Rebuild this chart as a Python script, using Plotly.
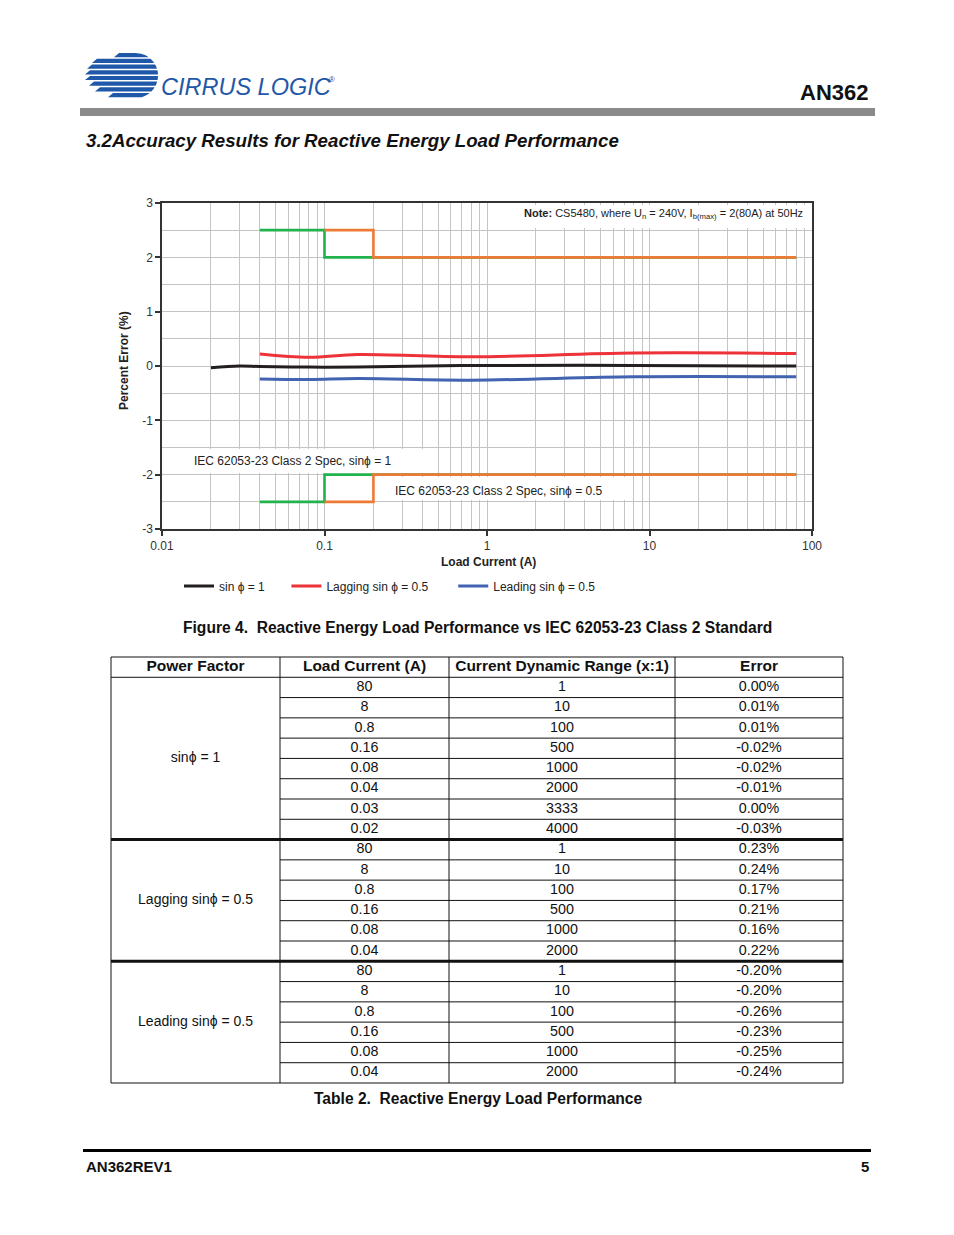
import math
import plotly.graph_objects as go

# ---------------- data ----------------
sin1_current = [0.02, 0.03, 0.04, 0.08, 0.16, 0.8, 8, 80]
sin1_error = [-0.03, 0.00, -0.01, -0.02, -0.02, 0.01, 0.01, 0.00]
lag_current = [0.04, 0.08, 0.16, 0.8, 8, 80]
lag_error = [0.22, 0.16, 0.21, 0.17, 0.24, 0.23]
lead_current = [0.04, 0.08, 0.16, 0.8, 8, 80]
lead_error = [-0.24, -0.25, -0.23, -0.26, -0.20, -0.20]

spec1_x = [0.04, 0.1, 0.1, 80]
spec1_lim = [2.5, 2.5, 2.0, 2.0]
spec05_x = [0.1, 0.2, 0.2, 80]
spec05_lim = [2.5, 2.5, 2.0, 2.0]

x_tickvals = [0.01, 0.1, 1, 10, 100]
x_ticktext = ["0.01", "0.1", "1", "10", "100"]
y_tickvals = [-3, -2, -1, 0, 1, 2, 3]
y_ticktext = ["-3", "-2", "-1", "0", "1", "2", "3"]

table_header = ["Power Factor", "Load Current (A)", "Current Dynamic Range (x:1)", "Error"]
group_names = ["sin\u03d5 = 1", "Lagging sin\u03d5 = 0.5", "Leading sin\u03d5 = 0.5"]
group_current = [
    ["80", "8", "0.8", "0.16", "0.08", "0.04", "0.03", "0.02"],
    ["80", "8", "0.8", "0.16", "0.08", "0.04"],
    ["80", "8", "0.8", "0.16", "0.08", "0.04"],
]
group_range = [
    ["1", "10", "100", "500", "1000", "2000", "3333", "4000"],
    ["1", "10", "100", "500", "1000", "2000"],
    ["1", "10", "100", "500", "1000", "2000"],
]
group_error = [
    ["0.00%", "0.01%", "0.01%", "-0.02%", "-0.02%", "-0.01%", "0.00%", "-0.03%"],
    ["0.23%", "0.24%", "0.17%", "0.21%", "0.16%", "0.22%"],
    ["-0.20%", "-0.20%", "-0.26%", "-0.23%", "-0.25%", "-0.24%"],
]

# ---------------- page geometry helpers ----------------
W, H = 954, 1235
FONT = "Liberation Sans, Arial, Helvetica, sans-serif"


def px(x):
    return x / W


def py(y):
    return 1 - y / H


BLACK = "#231f20"
RED = "#ee3239"
BLUE = "#4263b0"
GREEN = "#21b24b"
ORANGE = "#ed7a35"
GRID = "#c4c4c4"

fig = go.Figure()

# ---------------- chart traces ----------------
for xs, lim, col in [(spec1_x, spec1_lim, GREEN), (spec05_x, spec05_lim, ORANGE)]:
    fig.add_trace(go.Scatter(x=xs, y=lim, mode="lines", line=dict(color=col, width=2.6),
                             showlegend=False, hoverinfo="skip"))
    fig.add_trace(go.Scatter(x=xs, y=[-v for v in lim], mode="lines", line=dict(color=col, width=2.6),
                             showlegend=False, hoverinfo="skip"))

fig.add_trace(go.Scatter(x=sin1_current, y=sin1_error, mode="lines", name="sin \u03d5 = 1" + "\u00a0" * 5,
                         line=dict(color=BLACK, width=3, shape="spline", smoothing=1)))
fig.add_trace(go.Scatter(x=lag_current, y=lag_error, mode="lines",
                         name="Lagging sin \u03d5 = 0.5" + "\u00a0" * 6,
                         line=dict(color=RED, width=3, shape="spline", smoothing=1)))
fig.add_trace(go.Scatter(x=lead_current, y=lead_error, mode="lines", name="Leading sin \u03d5 = 0.5",
                         line=dict(color=BLUE, width=3, shape="spline", smoothing=1)))

minor_vals = [m * 10 ** e for e in range(-2, 2) for m in range(2, 10)]

fig.update_layout(
    xaxis=dict(type="log", range=[-2, 2], domain=[px(162), px(812)], anchor="y",
               tickvals=x_tickvals, ticktext=x_ticktext, ticks="outside", ticklen=5,
               tickcolor="#333", tickwidth=1.5,
               showline=True, linecolor="#333", linewidth=1.5, mirror=True,
               showgrid=True, gridcolor=GRID, gridwidth=1,
               minor=dict(tickvals=minor_vals, showgrid=True, gridcolor=GRID, gridwidth=1, ticks=""),
               tickfont=dict(family=FONT, size=12, color="#333"), zeroline=False, automargin=False),
    yaxis=dict(range=[-3, 3], domain=[py(529), py(203)], anchor="x",
               tickvals=y_tickvals, ticktext=y_ticktext, ticks="outside", ticklen=5,
               tickcolor="#333", tickwidth=1.5,
               showline=True, linecolor="#333", linewidth=1.5, mirror=True,
               showgrid=True, gridcolor=GRID, gridwidth=1,
               minor=dict(dtick=0.5, showgrid=True, gridcolor=GRID, gridwidth=1, ticks=""),
               tickfont=dict(family=FONT, size=12, color="#333"), zeroline=False, automargin=False),
)


def xv(p):  # pixel -> data (log axis) helper for label boxes
    return 10 ** (-2 + (p - 162) / 162.5)


def yv(p):
    return 3 - (p - 203) / (326 / 6)


shapes = []
for (x0, x1, y0, y1) in [(164, 438, 449, 473), (376, 633, 477, 500), (490, 810, 205, 228)]:
    shapes.append(dict(type="rect", xref="x", yref="y", x0=xv(x0), x1=xv(x1), y0=yv(y1), y1=yv(y0),
                       fillcolor="white", line=dict(width=0), layer="between"))

annotations = []


def note(x, y, text, size, xanchor="center", color="#111", xref="paper", yref="paper", **kw):
    annotations.append(dict(xref=xref, yref=yref, x=x, y=y, xanchor=xanchor, yanchor="middle",
                            text=text, showarrow=False, font=dict(family=FONT, size=size, color=color), **kw))


note(math.log10(xv(192)), yv(461), "IEC 62053-23 Class 2 Spec, sin\u03d5 = 1", 12, "left", "#222", "x", "y")
note(math.log10(xv(393)), yv(491), "IEC 62053-23 Class 2 Spec, sin\u03d5 = 0.5", 12, "left", "#222", "x", "y")
note(math.log10(xv(805)), yv(214),
     "<b>Note:</b> CS5480, where U<sub>n</sub> = 240V, I<sub>b(max)</sub> = 2(80A) at 50Hz",
     11, "right", "#222", "x", "y")
note(px(124), py(360), "<b>Percent Error (%)</b>", 12, "center", "#222", textangle=-90)
note(px(488), py(562), "<b>Load Current (A)</b>", 12, "center", "#222")

# ---------------- table (own axes) ----------------
col_edges = [111, 280, 449, 675, 843]
n_rows = 1 + sum(len(g) for g in group_current)
t_top, t_bot = 657, 1083
row_h = (t_bot - t_top) / n_rows
pad = 4
fig.update_layout(
    xaxis2=dict(domain=[px(col_edges[0] - pad), px(col_edges[-1] + pad)],
                range=[col_edges[0] - pad, col_edges[-1] + pad], visible=False, anchor="y2", fixedrange=True),
    yaxis2=dict(domain=[py(t_bot + pad), py(t_top - pad)],
                range=[n_rows + pad / row_h, -pad / row_h], visible=False, anchor="x2", fixedrange=True),
)

col_mid = [(col_edges[i] + col_edges[i + 1]) / 2 for i in range(4)]
tab_font = dict(family=FONT, size=14.3, color="#111")

fig.add_trace(go.Scatter(x=col_mid, y=[0.5] * 4, text=["<b>%s</b>" % h for h in table_header],
                         mode="text", xaxis="x2", yaxis="y2", showlegend=False, hoverinfo="skip",
                         textfont=dict(family=FONT, size=15.5, color="#111"), cliponaxis=False))

tx, ty, tt = [], [], []
gx, gy, gt = [], [], []
r = 1
group_bounds = []
for gi in range(3):
    n = len(group_current[gi])
    group_bounds.append((r, r + n))
    gx.append(col_mid[0])
    gy.append(r + n / 2)
    gt.append(group_names[gi])
    for k in range(n):
        for ci, vals in enumerate([group_current[gi], group_range[gi], group_error[gi]]):
            tx.append(col_mid[ci + 1])
            ty.append(r + k + 0.5)
            tt.append(vals[k])
    r += n

fig.add_trace(go.Scatter(x=tx, y=ty, text=tt, mode="text", xaxis="x2", yaxis="y2", showlegend=False,
                         hoverinfo="skip", textfont=tab_font, cliponaxis=False))
fig.add_trace(go.Scatter(x=gx, y=gy, text=gt, mode="text", xaxis="x2", yaxis="y2", showlegend=False,
                         hoverinfo="skip", textfont=dict(family=FONT, size=14, color="#111"),
                         cliponaxis=False))

LC = "#111"
for e in col_edges:
    shapes.append(dict(type="line", xref="x2", yref="y2", x0=e, x1=e, y0=0, y1=n_rows,
                       line=dict(color=LC, width=1)))
for yy in (0, 1, n_rows):
    shapes.append(dict(type="line", xref="x2", yref="y2", x0=col_edges[0], x1=col_edges[-1], y0=yy, y1=yy,
                       line=dict(color=LC, width=1)))
for gi, (a, b) in enumerate(group_bounds):
    for rr in range(a + 1, b):
        shapes.append(dict(type="line", xref="x2", yref="y2", x0=col_edges[1], x1=col_edges[-1], y0=rr, y1=rr,
                           line=dict(color=LC, width=1)))
    if gi > 0:
        shapes.append(dict(type="line", xref="x2", yref="y2", x0=col_edges[0], x1=col_edges[-1], y0=a, y1=a,
                           line=dict(color=LC, width=3)))

# ---------------- page decorations ----------------
LOGO = "#1f58a8"
cx, cy, rad = 135.5, 75.5, 22.5
stripes = [(53.0, 57.2, 114), (58.7, 63.0, 92), (64.5, 68.7, 87), (70.2, 74.4, 85),
           (75.9, 80.1, 85), (81.6, 85.8, 89), (87.3, 91.5, 95), (93.0, 97.2, 108)]
for (y0, y1, xl) in stripes:
    pts = []
    steps = 6
    for s in range(steps + 1):
        yy = y0 + (y1 - y0) * s / steps
        dy = yy - cy
        xx = cx + math.sqrt(max(rad ** 2 - dy ** 2, 0))
        pts.append((xx, yy))
    path = "M %f,%f " % (px(xl + 5), py(y0))
    for (xx, yy) in pts:
        path += "L %f,%f " % (px(xx), py(yy))
    path += "L %f,%f Z" % (px(xl), py(y1))
    shapes.append(dict(type="path", xref="paper", yref="paper", path=path, fillcolor=LOGO,
                       line=dict(width=0)))

note(px(159), py(87), "<i>CIRRUS LOGIC</i>", 23.5, "left", LOGO)
note(px(327), py(80), "\u00ae", 8, "left", LOGO)
note(px(870), py(93), "<b>AN362</b>", 22, "right")
shapes.append(dict(type="rect", xref="paper", yref="paper", x0=px(80), x1=px(875), y0=py(116), y1=py(108),
                   fillcolor="#8a8a8a", line=dict(width=0)))
note(px(84), py(141), "<b><i>3.2Accuracy Results for Reactive Energy Load Performance</i></b>", 18.7, "left")
note(px(477), py(627), "<b>Figure 4.  Reactive Energy Load Performance vs IEC 62053-23 Class 2 Standard</b>",
     15.6, "center")
note(px(477.5), py(1098), "<b>Table 2.  Reactive Energy Load Performance</b>", 15.6, "center")
shapes.append(dict(type="line", xref="paper", yref="paper", x0=px(83), x1=px(871), y0=py(1150.5), y1=py(1150.5),
                   line=dict(color="#000", width=3)))
note(px(84), py(1166), "<b>AN362REV1</b>", 15, "left")
note(px(871), py(1166), "<b>5</b>", 15, "right")

fig.update_layout(
    width=W, height=H, margin=dict(l=0, r=0, t=0, b=0, pad=0), autosize=False,
    paper_bgcolor="white", plot_bgcolor="white",
    font=dict(family=FONT, size=12, color="#222"),
    shapes=shapes, annotations=annotations,
    legend=dict(orientation="h", x=px(179), xanchor="left", y=py(586), yanchor="middle",
                font=dict(family=FONT, size=12, color="#222"), itemwidth=30,
                bgcolor="rgba(0,0,0,0)", borderwidth=0),
)

fig.write_html(
    "out.html",
    config={"displayModeBar": False},
    post_script="document.body.style.margin='0';document.body.style.padding='0';"
                "document.documentElement.style.margin='0';document.documentElement.style.overflow='hidden';",
)
